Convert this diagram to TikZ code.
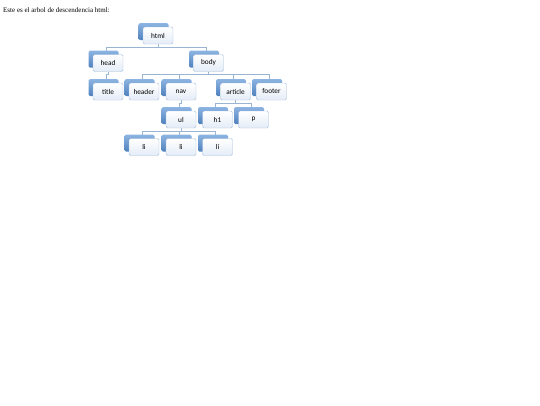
\documentclass[tikz,border=0pt]{standalone}
\usepackage{fontspec}
\setmainfont{Liberation Serif}
\newfontfamily\boxfont{Carlito}
\usetikzlibrary{shadows,backgrounds}
\definecolor{backblue}{HTML}{4F81BD}
\definecolor{backlight}{HTML}{8DB4E2}
\definecolor{frontedge}{HTML}{A7BFDC}
\definecolor{frontfill}{HTML}{E4ECF7}
\definecolor{linkcol}{HTML}{9AB4D3}
\begin{document}
\begin{tikzpicture}[
    x=1pt, y=-1pt,
    tag/.style={draw=frontedge, rounded corners=1.5pt, top color=white, bottom color=frontfill,
      minimum width=30pt, minimum height=17pt, inner sep=0pt, font=\boxfont\fontsize{7.3}{8}\selectfont,
      general shadow={shadow xshift=-4.5pt, shadow yshift=4pt, rounded corners=1.5pt,
        top color=backlight, bottom color=backblue}},
    link/.style={draw=linkcol, line width=0.6pt}
]
\useasboundingbox (0,0) rectangle (540,405);

\node[anchor=west, inner sep=0pt, font=\fontsize{7}{8}\selectfont] (caption) at (3,10) {Este es el arbol de descendencia html:};

\node[tag] (html) at (158,35.5) {html};
\node[tag] (head) at (108,63) {head};
\node[tag] (body) at (208.5,63) {body};
\node[tag] (title) at (108,91.5) {title};
\node[tag] (header) at (144,91.5) {header};
\node[tag] (nav) at (181,91.5) {nav};
\node[tag] (article) at (235.5,91.5) {article};
\node[tag] (footer) at (271.5,91.5) {footer};
\node[tag] (ul) at (181,119.5) {ul};
\node[tag] (h1) at (217.5,119.5) {h1};
\node[tag] (p) at (253.5,119.5) {p};
\node[tag] (li1) at (144,147) {li};
\node[tag] (li2) at (181,147) {li};
\node[tag] (li3) at (217.5,147) {li};

\begin{scope}[on background layer]
\foreach \up/\kid in {html/head,html/body,head/title,body/header,body/nav,body/article,body/footer,
                      nav/ul,article/h1,article/p,ul/li1,ul/li2,ul/li3}{
  \draw[link] (\up.south) -- ++(0,3) -| ([xshift=-2pt]\kid.center);
}
\end{scope}

\end{tikzpicture}
\end{document}
